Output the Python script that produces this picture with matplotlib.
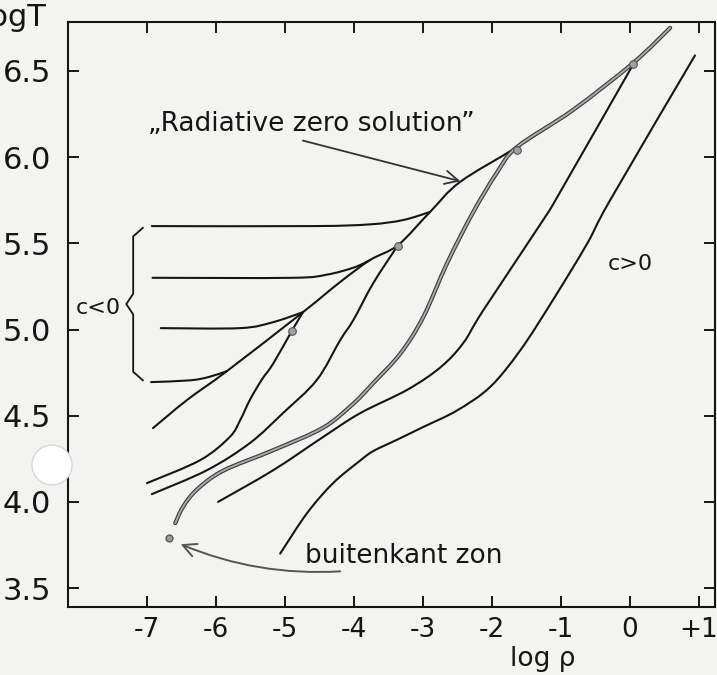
import matplotlib.pyplot as plt
from matplotlib.patches import Ellipse, PathPatch
from matplotlib.path import Path

# curves (x = log rho, y = log T)
env_x = [-6.913, -6.42, -5.841, -4.739, -4.203, -3.768, -3.362, -2.899, -2.464, -1.638, -0.826, 0.043, 0.58]
env_y = [4.428, 4.591, 4.759, 5.101, 5.275, 5.403, 5.49, 5.682, 5.856, 6.059, 6.274, 6.546, 6.75]

h56_x = [-6.93, -4.6, -3.77, -3.29, -2.899]
h56_y = [5.60, 5.60, 5.61, 5.635, 5.682]
h53_x = [-6.92, -4.9, -4.4, -4.0, -3.768]
h53_y = [5.30, 5.30, 5.318, 5.36, 5.403]
h50_x = [-6.80, -5.65, -5.17, -4.739]
h50_y = [5.008, 5.008, 5.043, 5.101]
h47_x = [-6.94, -6.38, -6.10, -5.841]
h47_y = [4.695, 4.705, 4.725, 4.759]

a_x = [-7.0, -6.23, -5.80, -5.65, -5.51, -5.34, -5.17, -4.90, -4.739]
a_y = [4.109, 4.242, 4.377, 4.474, 4.591, 4.707, 4.803, 4.993, 5.101]
b_x = [-6.93, -6.13, -5.51, -5.03, -4.54, -4.20, -4.01, -3.72, -3.362]
b_y = [4.045, 4.184, 4.341, 4.515, 4.707, 4.939, 5.055, 5.270, 5.49]
c_x = [-6.59, -6.48, -6.28, -5.90, -5.17, -4.45, -4.01, -3.72, -3.33, -3.00, -2.65, -2.28, -1.93, -1.638]
c_y = [3.877, 3.97, 4.07, 4.18, 4.30, 4.43, 4.57, 4.69, 4.86, 5.07, 5.386, 5.676, 5.91, 6.059]
d_x = [-5.97, -5.17, -4.45, -3.91, -3.23, -2.75, -2.42, -2.13, -1.26, -1.01, 0.04]
d_y = [4.0, 4.184, 4.376, 4.515, 4.65, 4.78, 4.92, 5.11, 5.635, 5.80, 6.535]
e_x = [-5.07, -4.68, -4.30, -3.91, -3.72, -3.38, -3.0, -2.51, -2.03, -1.59, -1.12, -0.62, -0.29, 0.94]
e_y = [3.70, 3.935, 4.11, 4.24, 4.295, 4.36, 4.434, 4.53, 4.666, 4.88, 5.17, 5.50, 5.75, 6.59]

dot_x = [-4.90, -3.36, -1.64, 0.04]
dot_y = [4.99, 5.484, 6.04, 6.54]
edge_x, edge_y = -6.68, 3.79

xticks = [-7, -6, -5, -4, -3, -2, -1, 0, 1]
xlabels = ['-7', '-6', '-5', '-4', '-3', '-2', '-1', '0', '+1']
yticks = [3.5, 4.0, 4.5, 5.0, 5.5, 6.0, 6.5]
ylabels = ['3.5', '4.0', '4.5', '5.0', '5.5', '6.0', '6.5']

paper = '#f3f3f1'
ink = '#151515'
plt.rcParams['font.family'] = ['DejaVu Sans']


def smooth_path(xs, ys):
    # Catmull-Rom through the read points, as cubic Bezier segments
    pts = list(zip(xs, ys))
    verts = [pts[0]]
    codes = [Path.MOVETO]
    n = len(pts)
    for i in range(n - 1):
        p0 = pts[max(i - 1, 0)]
        p1 = pts[i]
        p2 = pts[i + 1]
        p3 = pts[min(i + 2, n - 1)]
        c1 = (p1[0] + (p2[0] - p0[0]) / 6, p1[1] + (p2[1] - p0[1]) / 6)
        c2 = (p2[0] - (p3[0] - p1[0]) / 6, p2[1] - (p3[1] - p1[1]) / 6)
        verts += [c1, c2, p2]
        codes += [Path.CURVE4] * 3
    return Path(verts, codes)


def curve(ax, xs, ys, **kw):
    patch = PathPatch(smooth_path(xs, ys), facecolor='none', capstyle='round',
                      joinstyle='round', **kw)
    ax.add_patch(patch)


fig = plt.figure(figsize=(7.17, 6.75), dpi=100, facecolor=paper)
ax = fig.add_axes([0.0948, 0.1007, 0.9024, 0.8667], facecolor=paper)

lw = 1.5
for xs, ys in [(env_x, env_y), (h56_x, h56_y), (h53_x, h53_y), (h50_x, h50_y),
               (h47_x, h47_y), (a_x, a_y), (b_x, b_y), (d_x, d_y), (e_x, e_y)]:
    curve(ax, xs, ys, edgecolor=ink, lw=lw)

# grey highlighted solution: curve c, then along the envelope
i0 = env_x.index(-1.638)
gx = c_x + env_x[i0 + 1:]
gy = c_y + env_y[i0 + 1:]
curve(ax, gx, gy, edgecolor='#3a3a3a', lw=3.0, zorder=3)
curve(ax, gx, gy, edgecolor='#a8a8a8', lw=1.4, zorder=3.1)

ax.plot(dot_x, dot_y, 'o', ms=5.5, mfc='#a0a0a0', mec='#555555', mew=0.8, zorder=5)
ax.plot([edge_x], [edge_y], 'o', ms=5, mfc='#9a9a9a', mec='#444444', mew=0.8, zorder=5)

ax.set_xlim(-8.145, 1.23)
ax.set_ylim(3.39, 6.784)
ax.set_xticks(xticks)
ax.set_xticklabels(xlabels, fontsize=19)
ax.set_yticks(yticks)
ax.set_yticklabels(ylabels, fontsize=22)
ax.tick_params(direction='in', length=8, width=1.4, top=True, right=True, colors=ink)
ax.tick_params(axis='x', pad=7)
ax.tick_params(axis='y', pad=12)
for s in ax.spines.values():
    s.set_linewidth(1.5)
    s.set_color(ink)

# annotations
ax.text(-6.99, 6.19, '\u201eRadiative zero solution\u201d', fontsize=19, ha='left', va='center', color=ink)
ax.annotate('', xy=(-2.42, 5.856), xytext=(-4.78, 6.10),
            arrowprops=dict(arrowstyle='->', lw=1.3, color='#333333', mutation_scale=24))
ax.text(-4.71, 3.645, 'buitenkant zon', fontsize=19, ha='left', va='baseline', color=ink)
ax.annotate('', xy=(-6.55, 3.761), xytext=(-4.16, 3.598),
            arrowprops=dict(arrowstyle='->', lw=1.4, color='#555555', mutation_scale=24,
                            connectionstyle='arc3,rad=-0.12'))
ax.text(0.0, 5.38, 'c>0', fontsize=16, ha='center', va='center', color=ink)
ax.text(-7.71, 5.125, 'c<0', fontsize=16, ha='center', va='center', color=ink)

# curly brace grouping the c<0 curves
top, bot = h56_y[0], h47_y[0]
mid = (top + bot) / 2
bx = -7.2
ax.plot([-7.06, bx, bx, -7.3, bx, bx, -7.06],
        [top - 0.01, top - 0.06, mid + 0.06, mid, mid - 0.06, bot + 0.06, bot + 0.01],
        color=ink, lw=1.3, clip_on=False)

fig.text(46 / 717, 1 - 18 / 675, 'logT', fontsize=22, ha='right', va='center', color=ink)
fig.text(543 / 717, 1 - 659 / 675, 'log \u03c1', fontsize=19, ha='center', va='center', color=ink)

# punched hole in the scanned page
fig.add_artist(Ellipse((52 / 717, 1 - 465 / 675), 40 / 717, 40 / 675,
                       facecolor='white', edgecolor='#d8d8d8', lw=1.0))

fig.savefig('out.png', dpi=100, facecolor=paper)
